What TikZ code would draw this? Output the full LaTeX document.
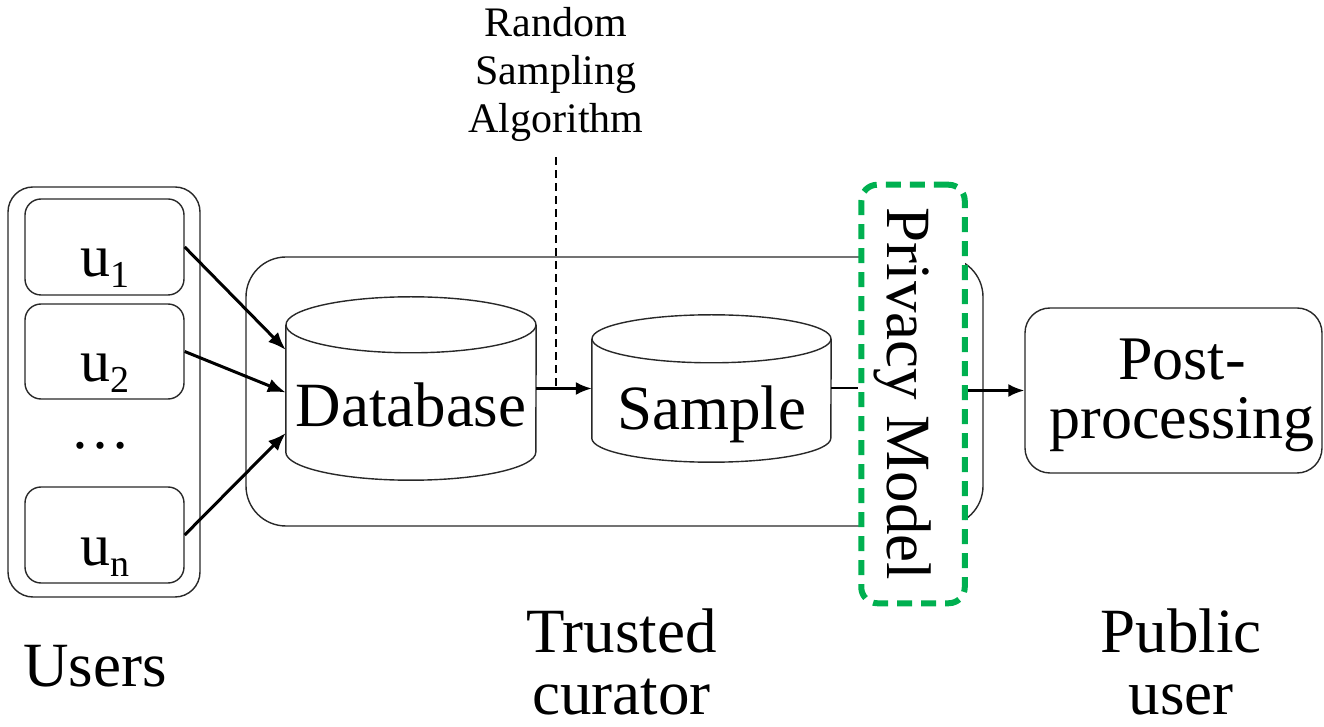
\documentclass[tikz,border=0pt]{standalone}
\usepackage{fontspec}
\setmainfont{Liberation Serif}
\usetikzlibrary{arrows.meta,calc}
\definecolor{pmgreen}{RGB}{0,176,80}
\definecolor{edge}{RGB}{40,40,40}

\begin{document}
\begin{tikzpicture}[x=1pt,y=1pt,
  rbox/.style={draw=edge, line width=1.4pt, rounded corners=#1, inner sep=0pt},
  rbox/.default=15pt,
  cyl/.style={draw=edge, line width=1.4pt},
  big/.style={font=\fontsize{63pt}{60pt}\selectfont, inner sep=0pt},
  ulabel/.style={rbox=16pt, minimum width=159pt, minimum height=96pt,
    font=\fontsize{60pt}{60pt}\selectfont, text height=60pt, text depth=0pt},
  feed/.style={line width=3pt, -{Latex[length=18pt,width=14pt]}},
  flow/.style={line width=2.5pt, -{Latex[length=16pt,width=13pt]}},
  privacy/.style={draw=pmgreen, line width=6pt, dash pattern=on 15pt off 9pt,
    rounded corners=16pt, fill=white, inner sep=0pt}
]
\useasboundingbox (0,0) rectangle (1324,726);

% users column
\node[rbox=25pt, minimum width=192pt, minimum height=410pt] (users) at (104,334) {};
\node[ulabel] (u1) at (104.5,479) {u\raisebox{-11pt}{\fontsize{38pt}{38pt}\selectfont 1}};
\node[ulabel, minimum height=95pt] (u2) at (104.5,374.5) {u\raisebox{-11pt}{\fontsize{38pt}{38pt}\selectfont 2}};
\node[font=\fontsize{60pt}{60pt}\selectfont, inner sep=0pt, anchor=base] (dots) at (100,277) {…};
\node[ulabel] (un) at (104.5,191) {u\raisebox{-11pt}{\fontsize{38pt}{38pt}\selectfont n}};
\node[big, anchor=base] (userslbl) at (95,40) {Users};

% trusted curator frame
\node[rbox=40pt, minimum width=737pt, minimum height=269pt] (curator) at (614.5,334.5) {};
\node[big, align=center, font=\fontsize{63pt}{62pt}\selectfont] (curatorlbl) at (621.5,64.5) {Trusted\\curator};

% database cylinder
\node[big, minimum width=250pt, minimum height=183pt, text height=77pt, text depth=0pt] (db) at (411,337.5) {Database};
\draw[cyl] ([yshift=-28pt]db.north west) -- ([yshift=28pt]db.south west)
  arc[start angle=180, end angle=360, x radius=125pt, y radius=28pt]
  -- ([yshift=-28pt]db.north east);
\draw[cyl] ([yshift=-28pt]db.north) ellipse [x radius=125pt, y radius=28pt];

% sample cylinder
\node[big, minimum width=239pt, minimum height=147pt, text height=83pt, text depth=0pt] (smp) at (711.5,337.5) {Sample};
\draw[cyl] ([yshift=-24pt]smp.north west) -- ([yshift=24pt]smp.south west)
  arc[start angle=180, end angle=360, x radius=119.5pt, y radius=24pt]
  -- ([yshift=-24pt]smp.north east);
\draw[cyl] ([yshift=-24pt]smp.north) ellipse [x radius=119.5pt, y radius=24pt];

% sampling algorithm
\node[font=\fontsize{42pt}{48pt}\selectfont, inner sep=0pt, align=center] (rsa) at (556,652) {Random\\Sampling\\Algorithm};

% privacy model
\node[privacy, minimum width=103.5pt, minimum height=418.5pt] (pm) at (913,332) {};
\node[big, rotate=-90] (pmt) at (903,332) {Privacy Model};

% post-processing
\node[rbox=25pt, minimum width=297pt, minimum height=165pt] (post) at (1173.5,335.5) {};
\node[align=center, inner sep=0pt, font=\fontsize{62pt}{59pt}\selectfont] (postlbl) at (1182,331) {Post-\\processing};
\node[big, align=center, font=\fontsize{63pt}{62pt}\selectfont] (publiclbl) at (1181,64.5) {Public\\user};

% connectors
\draw[feed] (u1.east) -- ([yshift=38.5pt]db.west);
\draw[feed] (u2.east) -- ([yshift=-4pt]db.west);
\draw[feed] (un.east) -- ([yshift=-44.5pt]db.west);
\draw[flow] (db.east) -- (smp.west);
\draw[line width=2pt, dash pattern=on 8pt off 5pt] ([yshift=-16pt]rsa.south) -- (rsa.south |- db.east);
\draw[line width=2pt] (smp.east) -- (smp.east -| pm.west);
\draw[flow] (pm.east |- post.west) -- (post.west);
\end{tikzpicture}
\end{document}
